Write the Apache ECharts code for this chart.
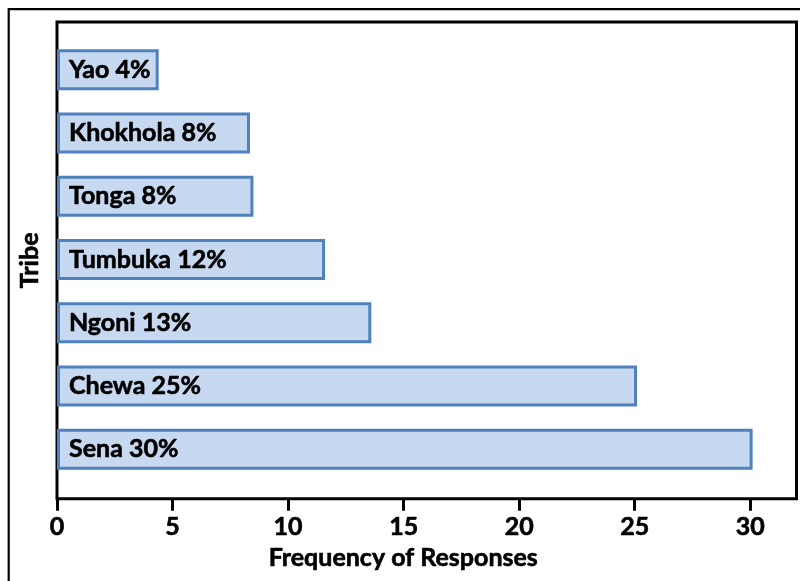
<!DOCTYPE html>
<html>
<head>
<meta charset="utf-8">
<script src="https://cdn.jsdelivr.net/npm/echarts@6/dist/echarts.min.js"></script>
<style>html,body{margin:0;padding:0;background:#fff}#c{width:800px;height:581px}</style>
</head>
<body>
<div id="c"></div>
<script>
// Categories from bottom to top
var categories = ['Sena', 'Chewa', 'Ngoni', 'Tumbuka', 'Tonga', 'Khokhola', 'Yao'];
var values = [30.1, 25.1, 13.6, 11.6, 8.5, 8.35, 4.4];
var percentLabels = [30, 25, 13, 12, 8, 8, 4];
var xTicks = [0, 5, 10, 15, 20, 25, 30];

var FONT = 'Lato';
var chart = echarts.init(document.getElementById('c'));
chart.setOption({
  animation: false,
  backgroundColor: '#fff',
  graphic: [{
    type: 'rect', silent: true,
    shape: { x: 8.7, y: 9.2, width: 1000, height: 1000 },
    style: { fill: null, stroke: '#000', lineWidth: 2.2 }
  }],
  grid: [
    { left: 57, right: 3.5, top: 22, bottom: 82.3, show: true, borderColor: '#000', borderWidth: 3, backgroundColor: 'transparent' },
    { left: 57, right: 3.5, top: 38, bottom: 100 }
  ],
  xAxis: [
    {
      gridIndex: 0, type: 'value', min: 0, max: 32,
      axisLine: { show: false },
      axisTick: { show: true, length: 12, lineStyle: { color: '#000', width: 3 }, customValues: xTicks },
      axisLabel: { color: '#000', fontFamily: FONT, fontWeight: 'bold', fontSize: 25, margin: 16, customValues: xTicks,
        textBorderColor: '#000', textBorderWidth: 0.6 },
      splitLine: { show: false },
      name: 'Frequency of Responses', nameLocation: 'middle', nameGap: 45,
      nameTextStyle: { color: '#000', fontFamily: FONT, fontWeight: 'bold', fontSize: 25, padding: [0, 47, 0, 0],
        textBorderColor: '#000', textBorderWidth: 0.6 }
    },
    { gridIndex: 1, type: 'value', min: 0, max: 32, show: false, splitLine: { show: false } }
  ],
  yAxis: [
    {
      gridIndex: 0, type: 'value', min: 0, max: 1,
      axisLine: { show: false }, axisTick: { show: false }, axisLabel: { show: false }, splitLine: { show: false },
      name: 'Tribe', nameLocation: 'middle', nameGap: 15, nameRotate: 90,
      nameTextStyle: { color: '#000', fontFamily: FONT, fontWeight: 'bold', fontSize: 25,
        textBorderColor: '#000', textBorderWidth: 0.6 }
    },
    { gridIndex: 1, type: 'category', data: categories, show: false }
  ],
  series: [{
    type: 'bar', xAxisIndex: 1, yAxisIndex: 1,
    data: values,
    barWidth: 41,
    itemStyle: { color: '#C6D9F1', borderColor: '#4F81BD', borderWidth: 3 },
    label: {
      show: true, position: 'insideLeft', distance: 12,
      color: '#000', fontFamily: FONT, fontWeight: 'bold', fontSize: 25,
      textBorderColor: '#000', textBorderWidth: 0.6,
      formatter: function (p) { return categories[p.dataIndex] + ' ' + percentLabels[p.dataIndex] + '%'; }
    }
  }]
});
</script>
</body>
</html>
